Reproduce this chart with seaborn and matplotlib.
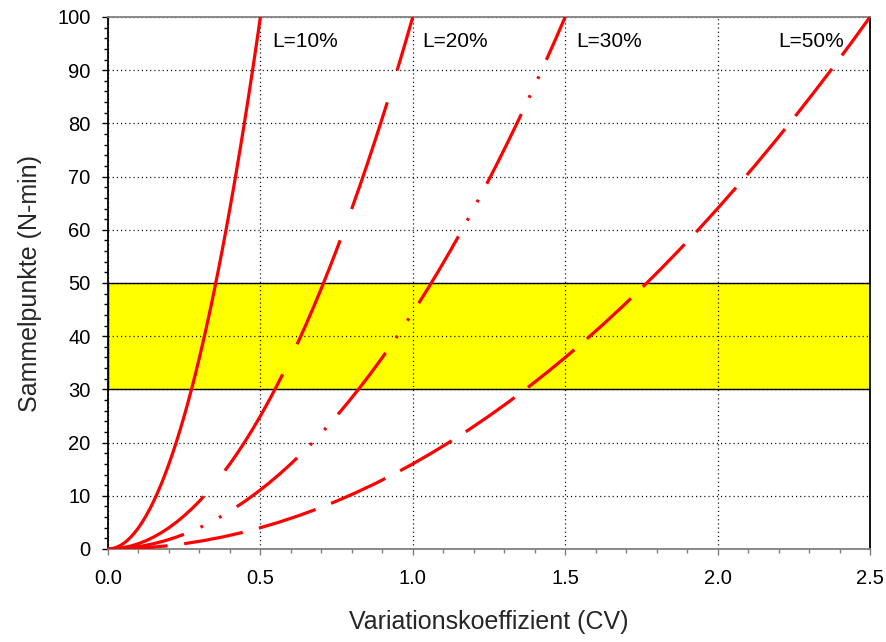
import matplotlib
matplotlib.use("Agg")
import matplotlib.pyplot as plt
from matplotlib.ticker import MultipleLocator
import seaborn as sns
import pandas as pd

# ---- data ----
# sample sizes (N-min)
n_points = [0.0, 0.0625, 0.25, 0.5625, 1.0, 1.5625, 2.25, 3.0625, 4.0, 5.0625,
            6.25, 7.5625, 9.0, 10.5625, 12.25, 14.0625, 16.0, 18.0625, 20.25,
            22.5625, 25.0, 27.5625, 30.25, 33.0625, 36.0, 39.0625, 42.25,
            45.5625, 49.0, 52.5625, 56.25, 60.0625, 64.0, 68.0625, 72.25,
            76.5625, 81.0, 85.5625, 90.25, 95.0625, 100.0]

cv_l10 = [0.0, 0.0125, 0.025, 0.0375, 0.05, 0.0625, 0.075, 0.0875, 0.1, 0.1125,
          0.125, 0.1375, 0.15, 0.1625, 0.175, 0.1875, 0.2, 0.2125, 0.225,
          0.2375, 0.25, 0.2625, 0.275, 0.2875, 0.3, 0.3125, 0.325, 0.3375,
          0.35, 0.3625, 0.375, 0.3875, 0.4, 0.4125, 0.425, 0.4375, 0.45,
          0.4625, 0.475, 0.4875, 0.5]

cv_l20 = [0.0, 0.025, 0.05, 0.075, 0.1, 0.125, 0.15, 0.175, 0.2, 0.225,
          0.25, 0.275, 0.3, 0.325, 0.35, 0.375, 0.4, 0.425, 0.45, 0.475,
          0.5, 0.525, 0.55, 0.575, 0.6, 0.625, 0.65, 0.675, 0.7, 0.725,
          0.75, 0.775, 0.8, 0.825, 0.85, 0.875, 0.9, 0.925, 0.95, 0.975, 1.0]

cv_l30 = [0.0, 0.0375, 0.075, 0.1125, 0.15, 0.1875, 0.225, 0.2625, 0.3,
          0.3375, 0.375, 0.4125, 0.45, 0.4875, 0.525, 0.5625, 0.6, 0.6375,
          0.675, 0.7125, 0.75, 0.7875, 0.825, 0.8625, 0.9, 0.9375, 0.975,
          1.0125, 1.05, 1.0875, 1.125, 1.1625, 1.2, 1.2375, 1.275, 1.3125,
          1.35, 1.3875, 1.425, 1.4625, 1.5]

cv_l50 = [0.0, 0.0625, 0.125, 0.1875, 0.25, 0.3125, 0.375, 0.4375, 0.5,
          0.5625, 0.625, 0.6875, 0.75, 0.8125, 0.875, 0.9375, 1.0, 1.0625,
          1.125, 1.1875, 1.25, 1.3125, 1.375, 1.4375, 1.5, 1.5625, 1.625,
          1.6875, 1.75, 1.8125, 1.875, 1.9375, 2.0, 2.0625, 2.125, 2.1875,
          2.25, 2.3125, 2.375, 2.4375, 2.5]

series_labels = ["L=10%", "L=20%", "L=30%", "L=50%"]
label_x = [0.538, 1.03, 1.535, 2.198]
label_y = [94.4, 94.4, 94.4, 94.4]

band_low, band_high = 30, 50
x_ticks = [0.0, 0.5, 1.0, 1.5, 2.0, 2.5]
y_ticks = [0, 10, 20, 30, 40, 50, 60, 70, 80, 90, 100]

# ---- style ----
sns.set_style("ticks")
plt.rcParams["font.family"] = ["Liberation Sans", "DejaVu Sans"]
plt.rcParams["lines.scale_dashes"] = False

fig = plt.figure(figsize=(8.87, 6.42), dpi=100)
fig.patch.set_facecolor("white")
ax = fig.add_axes([108 / 887, 93 / 642, 762 / 887, 532 / 642])
ax.set_facecolor("white")

ax.axhspan(band_low, band_high, facecolor="#ffff00", edgecolor="black",
           linewidth=1.0, zorder=0.2)

styles = [
    "-",
    (0, (81, 24)),
    (0, (56, 13, 2, 13, 2, 13)),
    (0, (43, 12)),
]
cv_series = [cv_l10, cv_l20, cv_l30, cv_l50]
for xs, ls in zip(cv_series, styles):
    df = pd.DataFrame({"cv": xs, "n": n_points})
    sns.lineplot(data=df, x="cv", y="n", ax=ax, color="#ff0000",
                 linewidth=2.3, linestyle=ls, estimator=None, sort=False,
                 solid_capstyle="butt", dash_capstyle="butt",
                 solid_joinstyle="round", zorder=3)

for lab, lx, ly in zip(series_labels, label_x, label_y):
    ax.text(lx, ly, lab, fontsize=15, ha="left", va="baseline", color="black",
            zorder=4)

ax.set_xlim(0, 2.5)
ax.set_ylim(0, 100)
ax.set_xticks(x_ticks)
ax.set_yticks(y_ticks)
ax.set_xticklabels([f"{v:.1f}" for v in x_ticks])
ax.set_yticklabels([str(v) for v in y_ticks])
ax.xaxis.set_minor_locator(MultipleLocator(0.1))
ax.yaxis.set_minor_locator(MultipleLocator(2))

ax.set_axisbelow("line")
ax.grid(True, which="major", color="black", linewidth=0.9,
        linestyle=(0, (0.8, 2.2)))

for side in ["top", "right", "left", "bottom"]:
    ax.spines[side].set_visible(True)
    ax.spines[side].set_linewidth(1.3)
ax.spines["top"].set_color("#808080")
ax.spines["bottom"].set_color("#808080")
ax.spines["left"].set_color("black")
ax.spines["right"].set_color("black")

ax.tick_params(axis="x", which="major", direction="out", length=4.5, width=1.0,
               color="#808080", labelsize=14.5, pad=10, labelcolor="black")
ax.tick_params(axis="x", which="minor", direction="out", length=2.8, width=1.0,
               color="#808080")
ax.tick_params(axis="y", which="major", direction="out", length=4.5, width=1.0,
               color="black", labelsize=14.5, pad=8, labelcolor="black")
ax.tick_params(axis="y", which="minor", direction="out", length=2.8, width=1.0,
               color="black")

ax.set_xlabel("Variationskoeffizient (CV)", fontsize=18)
ax.set_ylabel("Sammelpunkte (N-min)", fontsize=18)
ax.xaxis.set_label_coords(0.5, -0.1147)
ax.yaxis.set_label_coords(-0.0866, 0.5)

fig.savefig("out.png", dpi=100, facecolor="white")
